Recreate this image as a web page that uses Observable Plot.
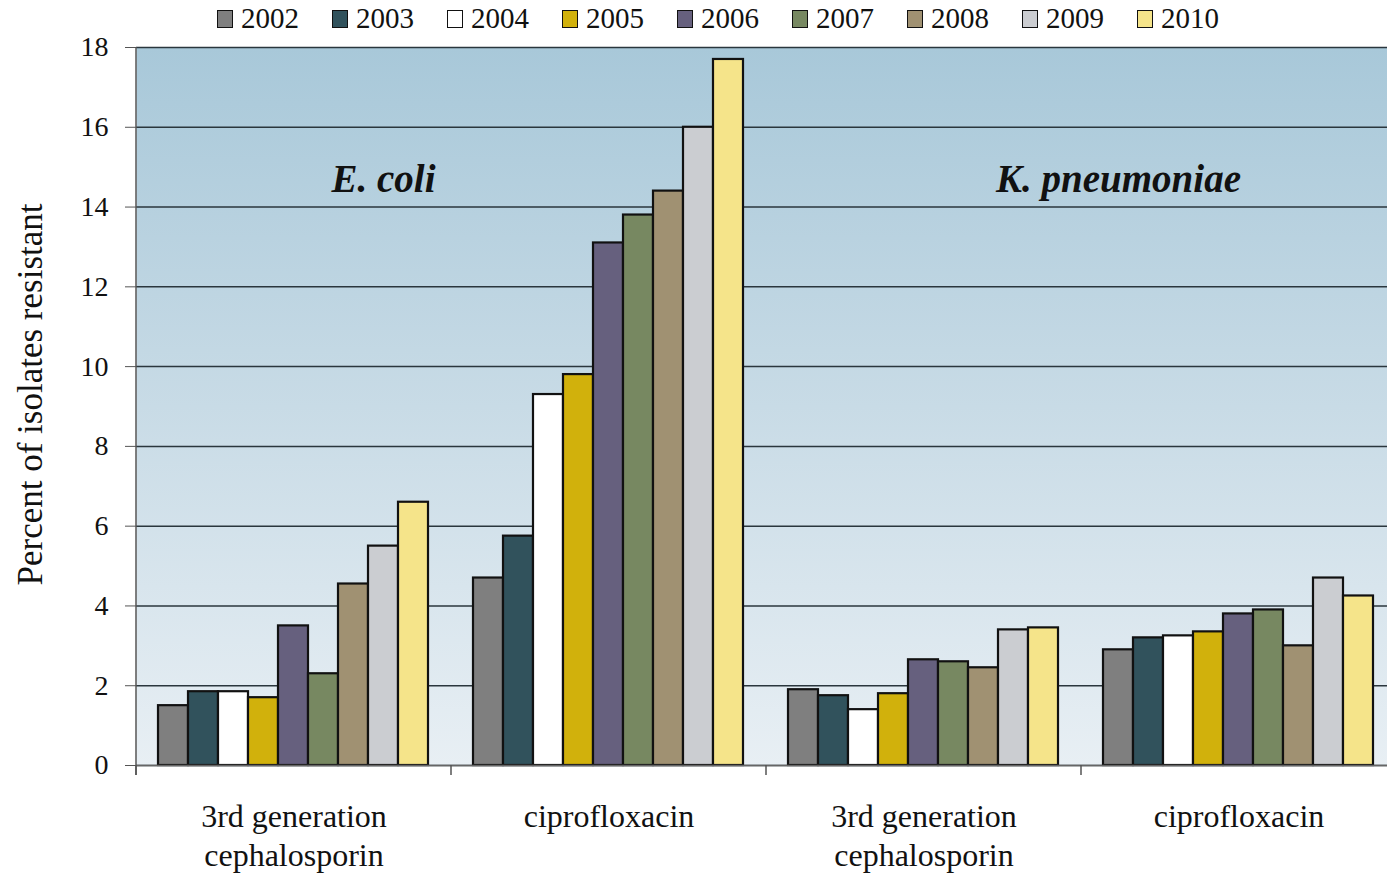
<!DOCTYPE html>
<html><head><meta charset="utf-8">
<script src="https://cdn.jsdelivr.net/npm/d3@7"></script>
<script src="https://cdn.jsdelivr.net/npm/@observablehq/plot@0.6"></script>
<style>
html,body{margin:0;padding:0;background:#fff;overflow:hidden;}
#wrap{width:1387px;height:873px;overflow:hidden;position:relative;font-family:"Liberation Serif","Times New Roman",serif;color:#111;}
#legend{height:31px;padding-top:3px;display:flex;align-items:center;padding-left:217px;font-size:29px;line-height:1;}
.item{display:flex;align-items:center;margin-right:33px;}
.sw{width:14px;height:16px;border:1.6px solid #111;margin-right:8px;box-sizing:content-box;}
#chart svg{display:block;overflow:visible;max-width:none !important;height:839px !important;}
</style></head><body>
<div id="wrap"><div id="legend"></div><div id="chart"></div></div>
<script>
// ---- data ----
const years = [2002, 2003, 2004, 2005, 2006, 2007, 2008, 2009, 2010];
const yearColors = ["#7f7f7f", "#31525c", "#ffffff", "#d1b10c", "#66607e", "#778861", "#a09172", "#cbcdd1", "#f5e48a"];
const speciesNames = ["E. coli", "K. pneumoniae"];
const drugNames = ["3rd generation\ncephalosporin", "ciprofloxacin"];
const ecoliCeph  = [1.5, 1.85, 1.85, 1.7, 3.5, 2.3, 4.55, 5.5, 6.6];
const ecoliCipro = [4.7, 5.75, 9.3, 9.8, 13.1, 13.8, 14.4, 16.0, 17.7];
const kpnCeph    = [1.9, 1.75, 1.4, 1.8, 2.65, 2.6, 2.45, 3.4, 3.45];
const kpnCipro   = [2.9, 3.2, 3.25, 3.35, 3.8, 3.9, 3.0, 4.7, 4.25];
const yTicks = [0, 2, 4, 6, 8, 10, 12, 14, 16, 18];
const yTitle = "Percent of isolates resistant";

// ---- build table ----
const groupKeys = [];
const seriesByGroup = [ecoliCeph, ecoliCipro, kpnCeph, kpnCipro];
speciesNames.forEach(s => drugNames.forEach(d => groupKeys.push(s + "|" + d)));
const rows = [];
groupKeys.forEach((g, gi) => years.forEach((yr, i) => rows.push({group: g, year: yr, value: seriesByGroup[gi][i]})));
const speciesLabels = [
  {name: speciesNames[0], group: groupKeys[0], year: years[7]},
  {name: speciesNames[1], group: groupKeys[3], year: years[0]}
];
const titleRow = [{text: yTitle, group: groupKeys[0]}];

// ---- legend ----
const leg = d3.select("#legend");
years.forEach((yr, i) => {
  const it = leg.append("div").attr("class", "item");
  it.append("div").attr("class", "sw").style("background", yearColors[i]);
  it.append("span").text(yr);
});

// ---- chart ----
const FONT = '"Liberation Serif","Times New Roman",serif';
const plot = Plot.plot({
  width: 1397,
  height: 839,
  marginTop: 13,
  marginBottom: 108,
  marginLeft: 135,
  marginRight: 0,
  style: {fontFamily: FONT, color: "#111", background: "transparent"},
  fx: {domain: groupKeys, padding: 0, label: null},
  x: {type: "band", domain: years, padding: 0, insetLeft: 22, insetRight: 23, axis: null},
  y: {domain: [0, 18], label: null},
  color: {type: "ordinal", domain: years, range: yearColors},
  marks: [
    Plot.frame({fill: "url(#bgGrad)", stroke: "none", insetRight: -1.5}),
    Plot.gridY(yTicks, {stroke: "#2a363d", strokeOpacity: 1, strokeWidth: 1.5}),
    Plot.barY(rows, {fx: "group", x: "year", y: "value", fill: "year", stroke: "#111", strokeWidth: 2.2}),
    Plot.ruleY([0], {stroke: "#666", strokeWidth: 1.5}),
    Plot.text(speciesLabels, {fx: "group", x: "year", y: 14.7, text: "name", fontSize: 39, fontWeight: "bold", fontStyle: "italic", fill: "#111"}),
    Plot.text(titleRow, {fx: "group", text: "text", frameAnchor: "left", textAnchor: "middle", rotate: -90, dx: -106, dy: -12, fontSize: 35, fill: "#111"}),
    Plot.axisY(yTicks, {tickSize: 11, tickPadding: 17, fontSize: 28, stroke: "#555", label: null}),
    Plot.axisFx({anchor: "bottom", tickSize: 0, tickPadding: 34, fontSize: 32, lineHeight: 1.22, tickFormat: k => k.split("|")[1], label: null})
  ]
});
document.getElementById("chart").appendChild(plot);

// gradient + boundary ticks and left axis line, positioned with Plot's scales
const svg = d3.select(plot);
const defs = svg.insert("defs", ":first-child");
const grad = defs.append("linearGradient").attr("id", "bgGrad").attr("x1", 0).attr("y1", 0).attr("x2", 0).attr("y2", 1);
grad.append("stop").attr("offset", "0%").attr("stop-color", "#a8c8d9");
grad.append("stop").attr("offset", "50%").attr("stop-color", "#c8dbe6");
grad.append("stop").attr("offset", "100%").attr("stop-color", "#e8eff4");
const fxS = plot.scale("fx"), yS = plot.scale("y");
const y0 = yS.apply(0), yTop = yS.apply(18);
const g = svg.append("g").attr("stroke", "#555").attr("stroke-width", 1.5);
g.append("line").attr("x1", fxS.apply(groupKeys[0])).attr("x2", fxS.apply(groupKeys[0])).attr("y1", yTop).attr("y2", y0 + 10);
groupKeys.forEach(k => {
  const x = fxS.apply(k);
  g.append("line").attr("x1", x).attr("x2", x).attr("y1", y0).attr("y2", y0 + 10);
});
</script>
</body></html>
